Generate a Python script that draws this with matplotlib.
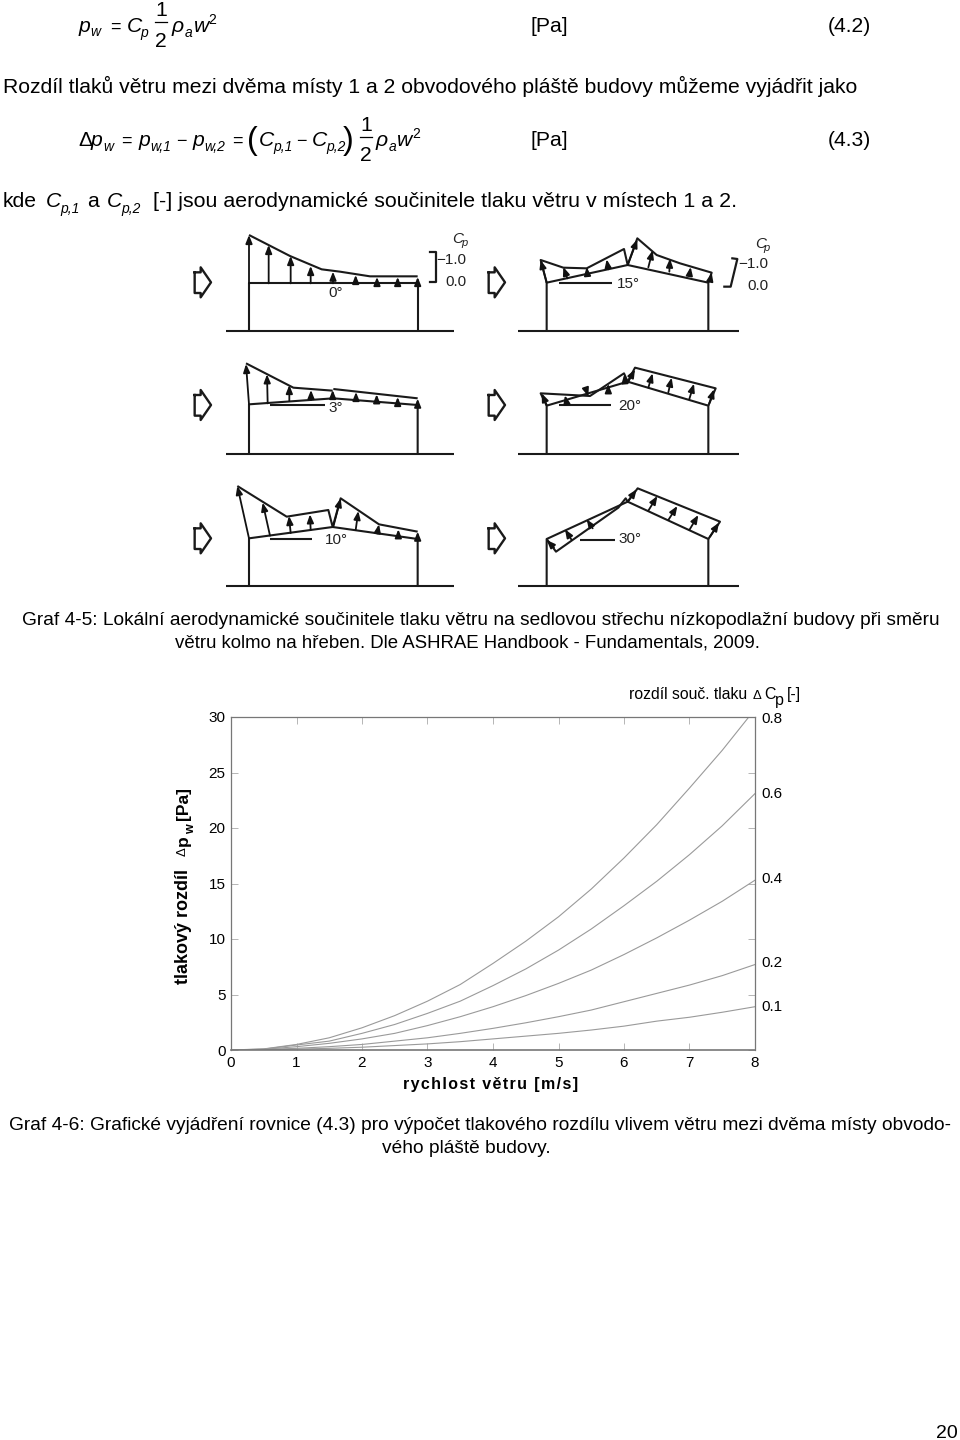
import numpy as np
import matplotlib
matplotlib.use("Agg")
import matplotlib.pyplot as plt

plt.rcParams['font.family'] = ['Liberation Sans', 'DejaVu Sans']

# curve data
wind = [0, 0.5, 1, 1.5, 2, 2.5, 3, 3.5, 4, 4.5, 5, 5.5, 6, 6.5, 7, 7.5, 8]
dp_08 = [0, 0.1, 0.5, 1.1, 2.0, 3.1, 4.4, 5.9, 7.8, 9.8, 12.0, 14.5, 17.3, 20.3, 23.6, 27.0, 30.7]
dp_06 = [0, 0.08, 0.45, 0.8, 1.5, 2.3, 3.3, 4.4, 5.8, 7.3, 9.0, 10.9, 13.0, 15.2, 17.6, 20.2, 23.1]
dp_04 = [0, 0.06, 0.3, 0.6, 1.0, 1.5, 2.2, 3.0, 3.9, 4.9, 6.0, 7.2, 8.6, 10.1, 11.7, 13.4, 15.3]
dp_02 = [0, 0.04, 0.15, 0.3, 0.5, 0.8, 1.1, 1.5, 1.95, 2.45, 3.0, 3.6, 4.35, 5.1, 5.85, 6.7, 7.7]
dp_01 = [0, 0.02, 0.08, 0.15, 0.25, 0.4, 0.55, 0.75, 1.0, 1.25, 1.5, 1.8, 2.15, 2.6, 2.95, 3.4, 3.9]
curves = [dp_08, dp_06, dp_04, dp_02, dp_01]
curve_labels = ['0.8', '0.6', '0.4', '0.2', '0.1']
curve_label_y = [29.8, 23.1, 15.4, 7.8, 3.9]
x_ticks = [0, 1, 2, 3, 4, 5, 6, 7, 8]
y_ticks = [0, 5, 10, 15, 20, 25, 30]

# roof diagrams, points measured in a 3x crop of each column
wind_arrow = [(44, -30), (62, -30), (62, -45), (93, 0), (62, 45), (62, 32), (44, 32), (44, -30)]
wind_y = [172, 540, 940]

d0_lines = [[(138, 318), (822, 318)], [(207, 318), (207, 175), (713, 175), (713, 318)],
            [(207, 30), (330, 93), (425, 133), (480, 140), (570, 154), (713, 154)]]
d0_arrows = [(207, 175, 207, 30), (266, 175, 266, 60), (332, 175, 332, 93), (392, 175, 392, 123),
             (459, 175, 459, 140), (527, 175, 527, 150), (591, 175, 591, 156), (653, 175, 653, 156),
             (713, 175, 713, 156)]

d3_lines = [[(138, 688), (822, 688)], [(207, 688), (207, 538), (460, 520), (713, 540), (713, 688)],
            [(198, 415), (340, 488), (458, 497)], [(460, 492), (713, 520)], [(270, 541), (435, 541)]]
d3_arrows = [(207, 538, 198, 417), (263, 535, 261, 448), (328, 528, 328, 480), (393, 525, 393, 495),
             (458, 520, 458, 495), (528, 527, 528, 501), (590, 530, 590, 508), (653, 535, 653, 516),
             (713, 540, 713, 521)]

d10_lines = [[(138, 1084), (822, 1084)], [(207, 1084), (207, 940), (458, 906), (713, 942), (713, 1084)],
             [(172, 783), (320, 875), (445, 855), (458, 906), (482, 820), (597, 898), (713, 920)],
             [(270, 941), (397, 941)]]
d10_arrows = [(207, 940, 172, 783), (270, 932, 248, 833), (332, 924, 327, 873), (392, 915, 390, 868),
              (460, 905, 482, 820), (527, 915, 535, 858), (592, 925, 597, 898), (655, 933, 655, 913),
              (713, 942, 713, 920)]

d15_lines = [[(115, 319), (777, 319)], [(200, 319), (200, 173), (443, 120), (685, 173), (685, 319)],
             [(200, 173), (182, 105), (250, 128), (320, 130), (432, 72), (443, 120), (472, 40),
              (530, 90), (600, 115), (695, 143), (685, 173)], [(238, 173), (395, 173)]]
d15_arrows = [(200, 173, 182, 105), (262, 160, 250, 126), (322, 147, 320, 126), (385, 133, 380, 103),
              (443, 120, 472, 43), (505, 127, 518, 76), (568, 140, 570, 101), (628, 153, 632, 126),
              (690, 167, 695, 143)]

d20_lines = [[(115, 688), (777, 688)], [(200, 688), (200, 542), (443, 470), (685, 542), (685, 688)],
             [(200, 542), (182, 505), (330, 513), (432, 445), (443, 470), (465, 428), (707, 490), (685, 542)],
             [(238, 541), (393, 541)]]
d20_arrows = [(200, 540, 185, 505), (258, 525, 255, 511), (322, 505, 325, 514), (385, 488, 385, 478),
              (435, 472, 433, 448), (445, 470, 465, 433), (505, 488, 518, 445), (565, 502, 575, 458),
              (628, 522, 642, 476), (688, 535, 702, 493)]

d30_lines = [[(115, 1084), (777, 1084)], [(200, 1084), (200, 942), (443, 830), (685, 942), (685, 1084)],
             [(200, 942), (228, 980), (415, 848), (437, 820), (443, 830), (473, 790), (720, 890), (685, 942)],
             [(300, 945), (405, 945)]]
d30_arrows = [(222, 968, 200, 945), (275, 945, 255, 913), (338, 910, 320, 883), (445, 828, 470, 793),
              (505, 857, 532, 813), (565, 885, 592, 843), (628, 915, 655, 870), (690, 935, 717, 893)]

left_diagrams = [(d0_lines, d0_arrows), (d3_lines, d3_arrows), (d10_lines, d10_arrows)]
right_diagrams = [(d15_lines, d15_arrows), (d20_lines, d20_arrows), (d30_lines, d30_arrows)]

left_angles = [('0°', 468, 205), ('3°', 468, 548), ('10°', 470, 945)]
right_angles = [('15°', 445, 178), ('20°', 450, 542), ('30°', 450, 942)]
left_bracket = [(750, 82), (767, 82), (767, 170), (750, 170)]
right_bracket = [(733, 185), (752, 185), (772, 102), (757, 100)]

BODY = 15.25
SUB = 10
CAPTION = 13.8

fig = plt.figure(figsize=(9.6, 14.4), dpi=100)
page = fig.add_axes([0, 0, 1, 1])
page.set_xlim(0, 960)
page.set_ylim(1440, 0)
page.axis('off')


def txt(x, y, s, size=BODY, style='normal', ha='left', va='baseline', **kw):
    page.text(x, y, s, fontsize=size, style=style, ha=ha, va=va, color='black', **kw)


def draw_diagrams(diagrams, ox, oy):
    for lines, arrows in diagrams:
        for line in lines:
            pts = np.array(line) / 3.0
            page.plot(pts[:, 0] + ox, pts[:, 1] + oy, color='#1a1a1a', lw=1.5, solid_capstyle='butt')
        for x0, y0, x1, y1 in arrows:
            page.annotate('', xy=(ox + x1 / 3.0, oy + y1 / 3.0), xytext=(ox + x0 / 3.0, oy + y0 / 3.0),
                          arrowprops=dict(arrowstyle='-|>,head_length=0.7,head_width=0.28', color='#111111',
                                          lw=1.3, mutation_scale=7, shrinkA=0, shrinkB=0))


draw_diagrams(left_diagrams, 180, 225)
draw_diagrams(right_diagrams, 480, 225)

# wind arrows left of the buildings
for ox, shift in [(180, 0), (480, -18)]:
    for wy in wind_y:
        pts = np.array(wind_arrow, dtype=float)
        page.plot(ox + (pts[:, 0] + shift) / 3.0, 225 + (pts[:, 1] + wy) / 3.0, color='#1a1a1a', lw=1.7)

for s, x, y in left_angles:
    page.text(180 + x / 3.0, 225 + y / 3.0, s, fontsize=11, ha='center', va='center', color='#222222')
for s, x, y in right_angles:
    page.text(480 + x / 3.0, 225 + y / 3.0, s, fontsize=11, ha='center', va='center', color='#222222')

# Cp scale brackets
for ox, br, ty in [(180, left_bracket, (38, 105, 170)), (480, right_bracket, (55, 118, 184))]:
    pts = np.array(br) / 3.0
    page.plot(pts[:, 0] + ox, pts[:, 1] + 225, color='#1a1a1a', lw=1.6)
    tx = 838 if ox == 180 else 845
    page.text(ox + tx / 3.0 - 7, 225 + ty[0] / 3.0 + 5, 'C', fontsize=11, style='italic', color='#222222')
    page.text(ox + tx / 3.0 + 2, 225 + ty[0] / 3.0 + 8, 'p', fontsize=8, style='italic', color='#222222')
    page.text(ox + (tx + 20) / 3.0, 225 + ty[1] / 3.0, '−1.0', fontsize=11, ha='right', va='center', color='#222222')
    page.text(ox + (tx + 20) / 3.0, 225 + ty[2] / 3.0, '0.0', fontsize=11, ha='right', va='center', color='#222222')

# first equation
txt(79, 32, 'p', style='italic')
txt(90, 36, 'w', size=SUB, style='italic')
txt(110, 32, '=', size=13)
txt(127, 32, 'C', style='italic')
txt(140, 37, 'p', size=SUB, style='italic')
txt(161, 16, '1', ha='center')
page.plot([155, 167], [22, 22], color='black', lw=0.9)
txt(161, 47, '2', ha='center')
txt(172, 32, 'ρ', style='italic')
txt(185, 37, 'a', size=SUB, style='italic')
txt(194, 32, 'w', style='italic')
txt(208, 24, '2', size=SUB)
txt(531, 32, '[Pa]')
txt(871, 32, '(4.2)', ha='right')

txt(3, 93, 'Rozdíl tlaků větru mezi dvěma místy 1 a 2 obvodového pláště budovy můžeme vyjádřit jako')

# second equation
txt(78, 146, 'Δ')
txt(91, 146, 'p', style='italic')
txt(103, 151, 'w', size=SUB, style='italic')
txt(121, 146, '=', size=13)
txt(139, 146, 'p', style='italic')
txt(150, 151, 'w,1', size=SUB, style='italic')
txt(176, 146, '−', size=13)
txt(193, 146, 'p', style='italic')
txt(204, 151, 'w,2', size=SUB, style='italic')
txt(232, 146, '=', size=13)
txt(247, 149, '(', size=23, weight='ultralight')
txt(259, 146, 'C', style='italic')
txt(273, 151, 'p,1', size=SUB, style='italic')
txt(296, 146, '−', size=13)
txt(312, 146, 'C', style='italic')
txt(326, 151, 'p,2', size=SUB, style='italic')
txt(343, 149, ')', size=23, weight='ultralight')
txt(366, 131, '1', ha='center')
page.plot([360, 372], [137, 137], color='black', lw=0.9)
txt(366, 161, '2', ha='center')
txt(376, 146, 'ρ', style='italic')
txt(389, 151, 'a', size=SUB, style='italic')
txt(397, 146, 'w', style='italic')
txt(412, 138, '2', size=SUB)
txt(531, 146, '[Pa]')
txt(871, 146, '(4.3)', ha='right')

# third line
txt(3, 207, 'kde')
txt(46, 207, 'C', style='italic')
txt(60, 213, 'p,1', size=SUB, style='italic')
txt(87, 207, 'a')
txt(107, 207, 'C', style='italic')
txt(121, 213, 'p,2', size=SUB, style='italic')
txt(153, 207, '[-] jsou aerodynamické součinitele tlaku větru v místech 1 a 2.', size=15.4)

# captions and page number
txt(481, 625, 'Graf 4-5: Lokální aerodynamické součinitele tlaku větru na sedlovou střechu nízkopodlažní budovy při směru', size=CAPTION, ha='center')
txt(467, 648, 'větru kolmo na hřeben. Dle ASHRAE Handbook - Fundamentals, 2009.', size=13.4, ha='center')
txt(480, 1130, 'Graf 4-6: Grafické vyjádření rovnice (4.3) pro výpočet tlakového rozdílu vlivem větru mezi dvěma místy obvodo-', size=CAPTION, ha='center')
txt(466, 1153, 'vého pláště budovy.', size=CAPTION, ha='center')
txt(958, 1438, '20', size=14, ha='right')

# the chart itself
left, right, top, bottom = 231, 755, 717, 1050
ax = fig.add_axes([left / 960, 1 - bottom / 1440, (right - left) / 960, (bottom - top) / 1440])
ax.patch.set_alpha(0)
for dp in curves:
    ax.plot(wind, dp, color='#9a9a9a', lw=0.8)
ax.set_xlim(0, 8)
ax.set_ylim(0, 30)
ax.set_xticks(x_ticks)
ax.set_yticks(y_ticks)
ax.tick_params(direction='in', top=True, right=True, length=5, width=0.6, color='#aaaaaa', labelsize=11, pad=4)
for sp in ax.spines.values():
    sp.set_linewidth(0.9)
    sp.set_color('#777777')
ax.spines['bottom'].set_linewidth(1.2)

for lab, yv in zip(curve_labels, curve_label_y):
    ax.text(8.1, yv, lab, fontsize=11, va='center', ha='left')

txt(629, 699, 'rozdíl souč. tlaku', size=11.3)
txt(753, 699, 'Δ', size=9.5)
txt(764, 699, 'C', size=11.5)
txt(775, 705, 'p', size=11.5)
txt(787, 699, '[-]', size=11.3)

# axis titles, spaced out by hand like the original
hair = '\u200a'
page.text(491, 1085, hair.join('rychlost větru [m/s]'), fontsize=11.5, weight='bold', ha='center', va='center')
page.text(183, 926, 'tlakový rozdíl', fontsize=13, weight='bold', rotation=90, ha='center', va='center')
page.text(183, 852, 'Δ', fontsize=9.5, rotation=90, ha='center', va='center')
page.text(183, 841, 'p', fontsize=12.5, weight='bold', rotation=90, ha='center', va='center')
page.text(191, 829, 'w', fontsize=9, weight='bold', rotation=90, ha='center', va='center')
page.text(183, 803, '[Pa]', fontsize=12.5, weight='bold', rotation=90, ha='center', va='center')

fig.savefig('out.png', dpi=100)
